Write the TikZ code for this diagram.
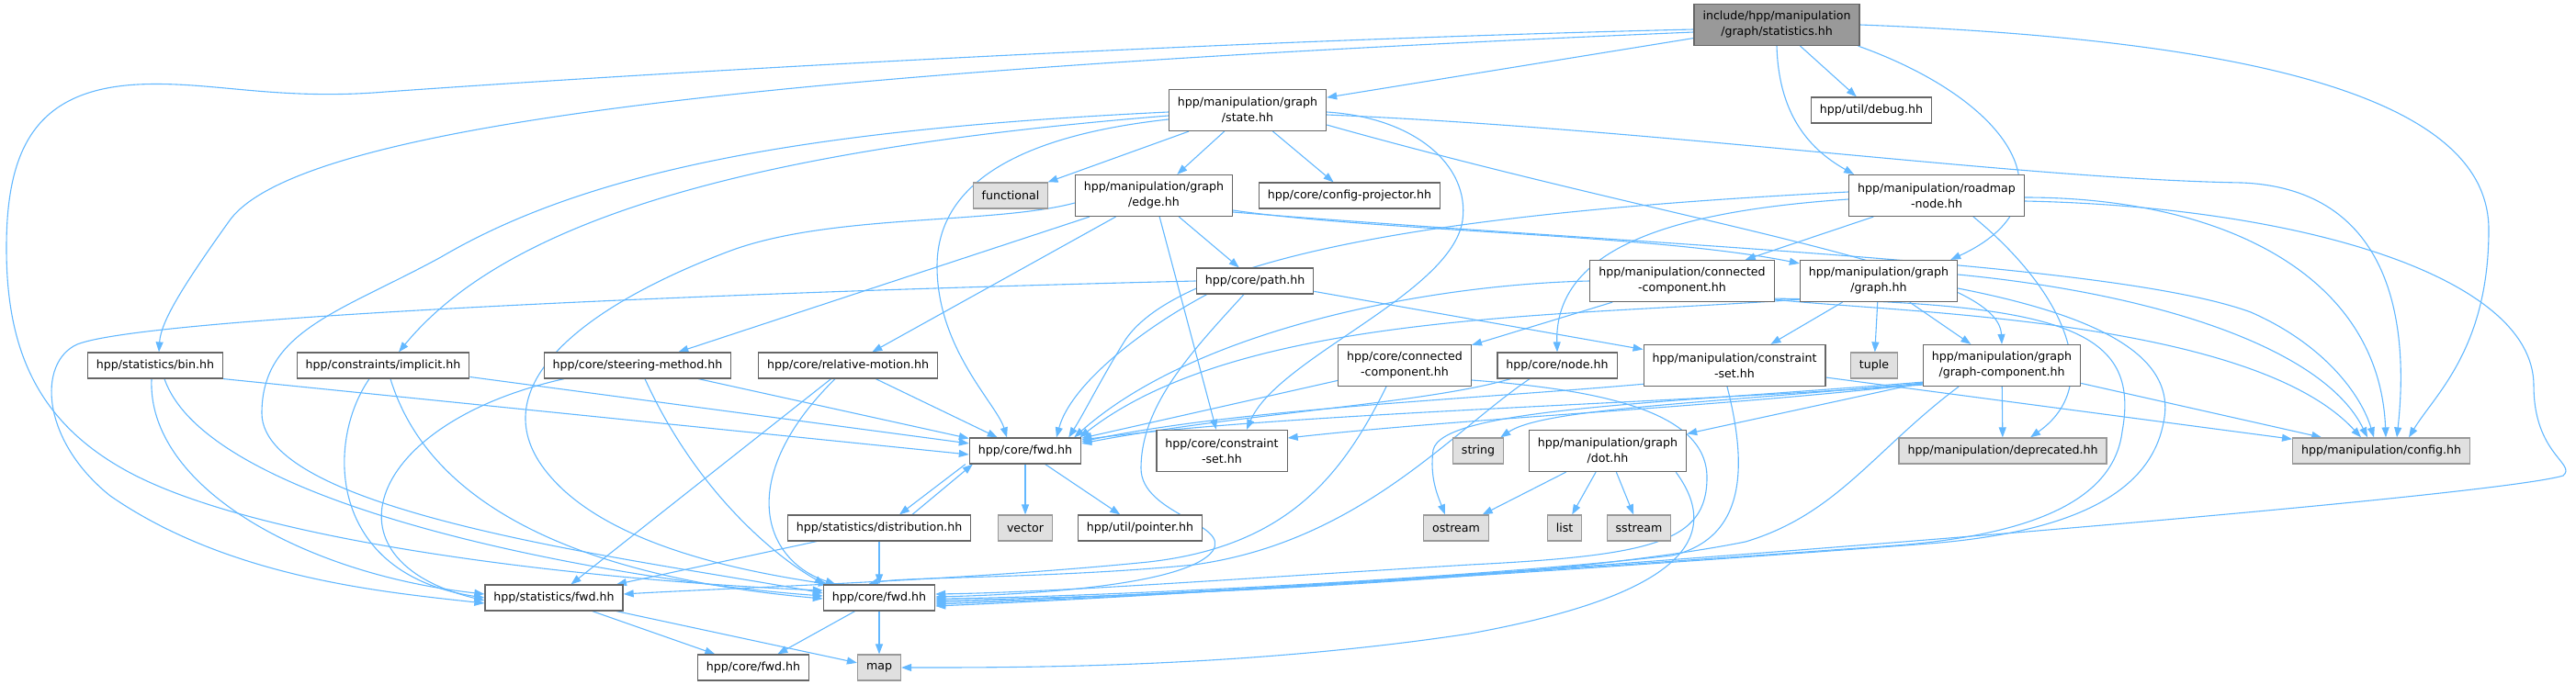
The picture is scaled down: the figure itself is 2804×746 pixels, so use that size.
\documentclass[tikz,border=0pt]{standalone}
\usepackage{fontspec}
\setmainfont{DejaVu Sans}
\usetikzlibrary{arrows.meta,backgrounds}
\definecolor{depblue}{HTML}{63B8FF}
\definecolor{boxline}{HTML}{666666}
\definecolor{sysline}{HTML}{999999}
\definecolor{sysfill}{HTML}{E0E0E0}
\definecolor{topfill}{HTML}{999999}
\begin{document}
\begin{tikzpicture}[x=1pt, y=-1pt,
  file/.style={draw=boxline, line width=1.2pt, fill=white, align=center,
    inner xsep=9.5pt, inner ysep=2pt, minimum height=28pt,
    font=\fontsize{12.6}{17}\selectfont},
  twoline/.style={file, minimum height=45pt},
  sysfile/.style={file, draw=sysline, fill=sysfill},
  topfile/.style={twoline, fill=topfill},
  dep/.style={draw=depblue, line width=1.1pt, -{Triangle[length=11pt,width=8pt]}}]
  \useasboundingbox (0,0) rectangle (2804,746);

  \node[topfile] (root) at (1934,27) {include/hpp/manipulation\\/graph/statistics.hh};
  \node[twoline] (state) at (1358,120) {hpp/manipulation/graph\\/state.hh};
  \node[file] (debug) at (2037,120) {hpp/util/debug.hh};
  \node[sysfile] (functional) at (1100,213) {functional};
  \node[twoline] (edge) at (1256,213) {hpp/manipulation/graph\\/edge.hh};
  \node[file] (cfgproj) at (1469,213) {hpp/core/config-projector.hh};
  \node[twoline] (roadmap) at (2108,213) {hpp/manipulation/roadmap\\-node.hh};
  \node[file] (path) at (1366,306) {hpp/core/path.hh};
  \node[twoline] (mconncomp) at (1831,306) {hpp/manipulation/connected\\-component.hh};
  \node[twoline] (graph) at (2045,306) {hpp/manipulation/graph\\/graph.hh};
  \node[file] (bin) at (169,398) {hpp/statistics/bin.hh};
  \node[file] (implicit) at (417,398) {hpp/constraints/implicit.hh};
  \node[file] (steering) at (694,398) {hpp/core/steering-method.hh};
  \node[file] (relmotion) at (923,398) {hpp/core/relative-motion.hh};
  \node[twoline] (cconncomp) at (1529,398) {hpp/core/connected\\-component.hh};
  \node[file] (cnode) at (1695,398) {hpp/core/node.hh};
  \node[twoline] (mcset) at (1888,398) {hpp/manipulation/constraint\\-set.hh};
  \node[sysfile] (tuple) at (2040,398) {tuple};
  \node[twoline] (gcomp) at (2179,398) {hpp/manipulation/graph\\/graph-component.hh};
  \node[file] (cfwd) at (1116,491) {hpp/core/fwd.hh};
  \node[twoline] (ccset) at (1330,491) {hpp/core/constraint\\-set.hh};
  \node[sysfile] (string) at (1609,491) {string};
  \node[twoline] (dot) at (1750,491) {hpp/manipulation/graph\\/dot.hh};
  \node[sysfile] (deprecated) at (2180,491) {hpp/manipulation/deprecated.hh};
  \node[sysfile] (config) at (2592,491) {hpp/manipulation/config.hh};
  \node[file] (distrib) at (957,575) {hpp/statistics/distribution.hh};
  \node[sysfile] (vector) at (1116,575) {vector};
  \node[file] (pointer) at (1241,575) {hpp/util/pointer.hh};
  \node[sysfile] (ostream) at (1585,575) {ostream};
  \node[sysfile] (list) at (1703,575) {list};
  \node[sysfile] (sstream) at (1784,575) {sstream};
  \node[file] (sfwd) at (603,651) {hpp/statistics/fwd.hh};
  \node[file] (corefwd) at (957,651) {hpp/core/fwd.hh};
  \node[file] (cfwdb) at (820,727) {hpp/core/fwd.hh};
  \node[sysfile] (map) at (957,727) {map};

  \begin{scope}[on background layer]
  \draw[dep] (root) -- (state);
  \draw[dep] (root) -- (debug);
  \draw[dep] (root.south) .. controls (1936,120) and (1965,160) .. ([xshift=6pt]roadmap.north west);
  \draw[dep] ([xshift=-2pt]root.south east) .. controls (2190,110) and (2260,220) .. ([xshift=-8pt]graph.north east);
  \draw[dep] (root.east) .. controls (2500,45) and (2709,120) .. (2709,250) .. controls (2709,380) and (2650,430) .. ([xshift=30pt]config.north);
  \draw[dep] ([yshift=-8pt]root.west) .. controls (900,75) and (330,130) .. (250,240) .. controls (200,310) and (175,350) .. ([xshift=4pt]bin.north);
  \draw[dep] ([yshift=-5pt]root.west) .. controls (1300,45) and (700,80) .. (420,100) .. controls (300,110) and (230,88) .. (150,92) .. controls (40,98) and (7,160) .. (7,270) .. controls (7,380) and (40,460) .. (140,514) .. controls (300,600) and (700,635) .. ([yshift=8pt]corefwd.west);

  \draw[dep] (state) -- (functional);
  \draw[dep] (state) -- (edge);
  \draw[dep] (state) -- (cfgproj);
  \draw[dep] ([yshift=-2pt]state.east) .. controls (1540,128) and (1600,180) .. (1592,240) .. controls (1580,320) and (1390,390) .. ([xshift=27pt]ccset.north);
  \draw[dep] ([yshift=-5pt]state.east) .. controls (1800,140) and (2200,195) .. (2440,199) .. controls (2590,205) and (2625,330) .. ([xshift=17pt]config.north);
  \draw[dep] ([yshift=-16pt]state.east) .. controls (1850,250) and (2175,290) .. (gcomp.north);
  \draw[dep] ([yshift=-6pt]state.west) .. controls (850,160) and (560,230) .. ([xshift=17pt]implicit.north);
  \draw[dep] ([yshift=-2pt]state.west) .. controls (900,140) and (650,180) .. (480,280) .. controls (370,340) and (285,360) .. (285,450) .. controls (285,560) and (700,610) .. ([yshift=5pt]corefwd.west);
  \draw[dep] ([yshift=-10pt]state.west) .. controls (1090,150) and (1020,210) .. (1020,290) .. controls (1020,380) and (1085,440) .. ([xshift=-20pt]cfwd.north);

  \draw[dep] ([yshift=-8pt]edge.west) .. controls (1080,245) and (900,232) .. (790,275) .. controls (620,340) and (520,430) .. (600,520) .. controls (670,600) and (830,625) .. ([xshift=6pt]corefwd.north west);
  \draw[dep] (edge) -- (steering);
  \draw[dep] (edge) -- (relmotion);
  \draw[dep] (edge) -- (ccset);
  \draw[dep] (edge) -- (path);
  \draw[dep] ([yshift=-16pt]edge.east) .. controls (1500,252) and (1800,255) .. ([yshift=-4pt]graph.north west);
  \draw[dep] ([yshift=-18pt]edge.east) .. controls (1800,268) and (2300,285) .. (2450,340) .. controls (2530,375) and (2570,430) .. ([xshift=-8pt]config.north);

  \draw[dep] (path.west) .. controls (800,318) and (160,345) .. (84,375) .. controls (40,395) and (45,480) .. (120,540) .. controls (250,630) and (420,645) .. ([yshift=-6pt]sfwd.west);
  \draw[dep] ([xshift=12pt]path.south west) .. controls (1240,360) and (1165,420) .. ([xshift=34pt]cfwd.north);
  \draw[dep] ([xshift=-12pt]path.south) .. controls (1300,380) and (1242,440) .. (1242,510) .. controls (1242,560) and (1340,570) .. (1320,600) .. controls (1290,640) and (1100,648) .. ([yshift=1pt]corefwd.east);
  \draw[dep] (path) -- (mcset);

  \draw[dep] ([yshift=4pt]roadmap.west) .. controls (1700,225) and (1300,260) .. (1225,370) .. controls (1200,410) and (1180,450) .. ([xshift=-14pt]cfwd.north east);
  \draw[dep] ([yshift=-4pt]roadmap.west) .. controls (1820,230) and (1692,270) .. (cnode.north);
  \draw[dep] (roadmap) -- (mconncomp);
  \draw[dep] ([xshift=40pt]roadmap.south) .. controls (2250,320) and (2290,420) .. ([xshift=30pt]deprecated.north);
  \draw[dep] ([yshift=-2pt]roadmap.east) .. controls (2420,215) and (2590,300) .. ([xshift=5pt]config.north);
  \draw[dep] ([yshift=-6pt]roadmap.east) .. controls (2500,225) and (2758,300) .. (2758,420) .. controls (2758,495) and (2805,505) .. (2790,518) .. controls (2700,545) and (1500,640) .. ([yshift=-9pt]corefwd.east);

  \draw[dep] (graph) -- (mcset);
  \draw[dep] (graph) -- (tuple);
  \draw[dep] (graph) -- (gcomp);
  \draw[dep] ([yshift=7pt]graph.east) .. controls (2350,320) and (2530,380) .. ([xshift=-15pt]config.north);
  \draw[dep] ([yshift=-8pt]graph.east) .. controls (2290,345) and (2370,390) .. (2355,460) .. controls (2340,540) and (2250,580) .. (2100,592) .. controls (1700,622) and (1300,648) .. ([yshift=-7pt]corefwd.east);
  \draw[dep] ([yshift=3pt]graph.south west) .. controls (1700,345) and (1350,340) .. ([xshift=-2pt]cfwd.north east);

  \draw[dep] (mconncomp.west) .. controls (1550,310) and (1300,360) .. ([xshift=-8pt]cfwd.north east);
  \draw[dep] (mconncomp) -- (cconncomp);
  \draw[dep] ([yshift=3pt]mconncomp.south east) .. controls (2050,340) and (2450,345) .. ([xshift=-22pt]config.north);
  \draw[dep] ([yshift=4pt]mconncomp.south east) .. controls (2250,330) and (2330,360) .. (2310,470) .. controls (2300,550) and (2200,585) .. (2050,595) .. controls (1700,620) and (1300,648) .. ([yshift=-5pt]corefwd.east);

  \draw[dep] (cconncomp) -- (cfwd);
  \draw[dep] ([xshift=-20pt]cconncomp.south) .. controls (1460,520) and (1400,595) .. (1250,612) .. controls (1050,632) and (800,640) .. ([yshift=4pt]sfwd.east);
  \draw[dep] ([yshift=-16pt]cconncomp.east) .. controls (1750,425) and (1858,450) .. (1858,520) .. controls (1858,590) and (1800,605) .. (1600,615) .. controls (1350,630) and (1150,645) .. ([yshift=4pt]corefwd.east);

  \draw[dep] ([xshift=15pt]cnode.south west) .. controls (1550,440) and (1350,450) .. ([yshift=8pt]cfwd.east);
  \draw[dep] ([xshift=-30pt]cnode.south) .. controls (1580,470) and (1480,590) .. (1300,615) .. controls (1150,630) and (980,628) .. ([xshift=-12pt]corefwd.north);

  \draw[dep] ([yshift=3pt,xshift=2pt]mcset.south west) .. controls (1600,435) and (1350,445) .. ([yshift=10pt]cfwd.east);
  \draw[dep] ([xshift=-8pt]mcset.south) .. controls (1900,500) and (1905,585) .. (1820,605) .. controls (1600,630) and (1200,650) .. ([yshift=-1pt]corefwd.east);
  \draw[dep] (mcset) -- (config);

  \draw[dep] ([yshift=2pt]gcomp.south west) .. controls (1800,440) and (1400,450) .. ([yshift=12pt]cfwd.east);
  \draw[dep] ([yshift=3pt]gcomp.south west) .. controls (1850,445) and (1600,455) .. ([yshift=14pt]ccset.east);
  \draw[dep] ([yshift=4pt]gcomp.south west) .. controls (1850,440) and (1680,445) .. ([xshift=-4pt]string.north east);
  \draw[dep] ([yshift=5pt]gcomp.south west) .. controls (1800,440) and (1570,445) .. (1560,490) .. controls (1556,520) and (1565,540) .. ([xshift=-12pt]ostream.north);
  \draw[dep] (gcomp) -- (dot);
  \draw[dep] (gcomp) -- (deprecated);
  \draw[dep] (gcomp) -- (config);
  \draw[dep] ([xshift=-47pt]gcomp.south) .. controls (2040,490) and (2000,560) .. (1900,590) .. controls (1700,630) and (1300,648) .. ([yshift=-3pt]corefwd.east);

  \draw[dep] (dot) -- (ostream);
  \draw[dep] (dot) -- (list);
  \draw[dep] (dot) -- (sstream);
  \draw[dep] ([xshift=-12pt]dot.south east) .. controls (1880,590) and (1820,650) .. (1600,690) .. controls (1350,728) and (1100,727) .. (map.east);

  \draw[dep] (bin.south east) -- ([yshift=-4pt]cfwd.west);
  \draw[dep] ([xshift=-4pt]bin.south) .. controls (160,530) and (330,625) .. ([yshift=4pt]sfwd.west);
  \draw[dep] ([xshift=10pt]bin.south) .. controls (230,560) and (700,635) .. ([yshift=2pt]corefwd.west);

  \draw[dep] (implicit) -- (cfwd);
  \draw[dep] ([xshift=-15pt]implicit.south) .. controls (355,480) and (355,625) .. (sfwd.west);
  \draw[dep] ([xshift=8pt]implicit.south) .. controls (470,560) and (650,630) .. ([yshift=-1pt]corefwd.west);

  \draw[dep] ([xshift=-80pt]steering.south) .. controls (400,460) and (345,610) .. ([yshift=-3pt]sfwd.west);
  \draw[dep] ([xshift=8pt]steering.south) .. controls (760,540) and (850,610) .. ([xshift=2pt]corefwd.north west);
  \draw[dep] (steering) -- (cfwd);

  \draw[dep] (relmotion) -- (sfwd);
  \draw[dep] ([xshift=-14pt]relmotion.south) .. controls (800,520) and (830,610) .. ([xshift=14pt]corefwd.north west);
  \draw[dep] (relmotion) -- (cfwd);

  \draw[dep] (cfwd) -- (vector);
  \draw[dep] (cfwd) -- (pointer);
  \draw[dep] ([xshift=-4pt]cfwd.south west) -- ([xshift=22pt]distrib.north);
  \draw[dep] ([xshift=36pt]distrib.north) -- ([xshift=4pt]cfwd.south west);
  \draw[dep] (distrib) -- (corefwd);
  \draw[dep] (distrib) -- (sfwd);

  \draw[dep] (sfwd) -- (cfwdb);
  \draw[dep] (sfwd) -- (map);
  \draw[dep] (corefwd) -- (cfwdb);
  \draw[dep] (corefwd) -- (map);
  \end{scope}
\end{tikzpicture}
\end{document}
